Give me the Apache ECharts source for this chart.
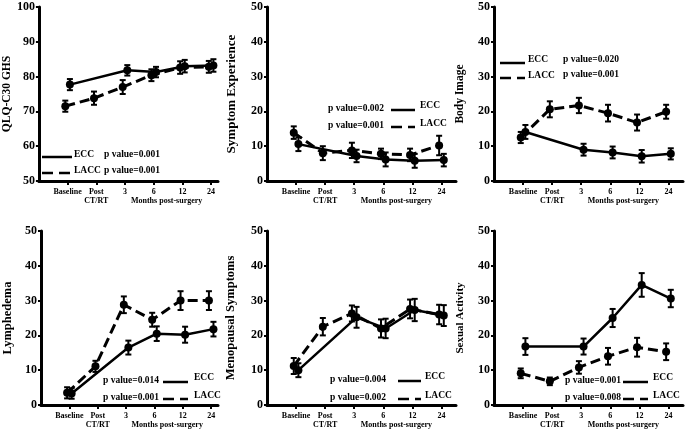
<!DOCTYPE html>
<html><head><meta charset="utf-8">
<script src="https://cdn.jsdelivr.net/npm/echarts@6/dist/echarts.min.js"></script>
<style>html,body{margin:0;padding:0;background:#fff}#c{width:685px;height:429px}</style>
</head><body><div id="c"></div>
<script>
// ---------- data ----------
const categories = ['Baseline', 'Post\nCT/RT', '3', '6', '12', '24'];
const xAxisSubtitle = 'Months post-surgery';
const titles = ['QLQ-C30 GHS', 'Symptom Experience', 'Body Image', 'Lymphedema', 'Menopausal Symptoms', 'Sexual Activity'];
const yMin = [50, 0, 0, 0, 0, 0];
const yMax = [100, 50, 50, 50, 50, 50];
const pEcc  = ['0.001', '0.002', '0.020', '0.014', '0.004', '0.001'];
const pLacc = ['0.001', '0.001', '0.001', '0.001', '0.002', '0.008'];

// QLQ-C30 GHS
const qlqEcc     = [77.7, null, 81.8, 81.3, 83.0, 83.2];
const qlqEccErr  = [1.6, null, 1.5, 1.5, 1.8, 1.8];
const qlqLacc    = [71.5, 73.8, 77.0, 80.4, 82.6, 82.8];
const qlqLaccErr = [1.6, 1.9, 2.0, 1.7, 1.8, 1.7];
// Symptom Experience
const sympEcc     = [10.6, null, 7.2, 6.2, 5.8, 6.0];
const sympEccErr  = [2.0, null, 1.8, 2.0, 2.0, 1.8];
const sympLacc    = [13.9, 8.0, 8.8, 7.8, 7.5, 10.2];
const sympLaccErr = [1.8, 2.0, 2.2, 1.5, 1.8, 2.8];
// Body Image
const bodyEcc     = [14.1, null, 9.0, 8.2, 7.1, 7.8];
const bodyEccErr  = [2.0, null, 1.7, 1.7, 1.8, 1.6];
const bodyLacc    = [12.5, 20.6, 21.7, 19.5, 16.8, 19.9];
const bodyLaccErr = [1.6, 2.3, 2.2, 2.4, 2.3, 2.0];
// Lymphedema
const lymEcc     = [3.3, null, 16.5, 20.5, 20.2, 21.8];
const lymEccErr  = [1.5, null, 2.0, 2.1, 2.3, 2.1];
const lymLacc    = [3.5, 11.1, 28.8, 24.5, 30.0, 30.0];
const lymLaccErr = [1.6, 1.6, 2.4, 2.0, 2.7, 2.7];
// Menopausal Symptoms
const menoEcc     = [10.0, null, 25.2, 22.0, 27.3, 25.7];
const menoEccErr  = [2.0, null, 3.0, 2.8, 3.2, 3.0];
const menoLacc    = [11.2, 22.5, 26.3, 22.0, 27.6, 26.0];
const menoLaccErr = [2.3, 2.5, 2.3, 2.6, 2.7, 2.8];
// Sexual Activity
const sexEcc     = [16.8, null, 16.8, 25.0, 34.5, 30.6];
const sexEccErr  = [2.4, null, 2.3, 2.6, 3.4, 2.5];
const sexLacc    = [9.1, 6.8, 10.8, 14.0, 16.6, 15.3];
const sexLaccErr = [1.4, 1.1, 1.8, 2.4, 2.7, 2.4];

const eccSets  = [[qlqEcc, qlqEccErr], [sympEcc, sympEccErr], [bodyEcc, bodyEccErr], [lymEcc, lymEccErr], [menoEcc, menoEccErr], [sexEcc, sexEccErr]];
const laccSets = [[qlqLacc, qlqLaccErr], [sympLacc, sympLaccErr], [bodyLacc, bodyLaccErr], [lymLacc, lymLaccErr], [menoLacc, menoLaccErr], [sexLacc, sexLaccErr]];

// ---------- layout / style ----------
const FONT = '"Liberation Serif", "Times New Roman", serif';
const grids = [
  {left: 35,  top: 7,   width: 183, height: 174},
  {left: 267, top: 7,   width: 189, height: 174},
  {left: 494, top: 7,   width: 189, height: 174},
  {left: 35,  top: 231, width: 183, height: 175},
  {left: 267, top: 231, width: 189, height: 175},
  {left: 494, top: 231, width: 189, height: 175}
];
const xMaxes = [5.24, 5.5, 5.5, 5.24, 5.5, 5.5];
const nameGaps = [25, 29, 28, 27, 30, 28];
const nameSizes = [11.5, 13, 11.5, 12.5, 12.5, 11];
const LEG_FS = 9.5;
const JIT = 0.08;
const DASH = [10, 5];

const chart = echarts.init(document.getElementById('c'), null, {renderer: 'canvas'});

const xAxes = [], yAxes = [], series = [];
grids.forEach((g, p) => {
  xAxes.push({
    gridIndex: p, type: 'value', min: -1, max: xMaxes[p],
    axisLine: {show: true, onZero: false, lineStyle: {color: '#000', width: 3}},
    splitLine: {show: false},
    axisTick: {show: true, customValues: [0, 1, 2, 3, 4, 5], length: 4, lineStyle: {color: '#000', width: 2}},
    axisLabel: {
      customValues: [0, 1, 2, 3, 4, 5],
      formatter: v => categories[Math.round(v)],
      fontFamily: FONT, fontWeight: 'bold', fontSize: 8, color: '#000', lineHeight: 9, margin: 6
    }
  });
  yAxes.push({
    gridIndex: p, type: 'value', min: yMin[p], max: yMax[p], interval: 10,
    name: titles[p], nameLocation: 'middle', nameGap: nameGaps[p], nameRotate: 90,
    nameTextStyle: {fontFamily: FONT, fontWeight: 'bold', fontSize: nameSizes[p], color: '#000'},
    axisLine: {show: true, onZero: false, lineStyle: {color: '#000', width: 3}},
    axisTick: {show: true, length: 3, lineStyle: {color: '#000', width: 2}},
    splitLine: {show: false},
    axisLabel: {fontFamily: FONT, fontWeight: 'bold', fontSize: 12, color: '#000', margin: 4}
  });

  [[eccSets[p], JIT, 'solid'], [laccSets[p], -JIT, 'dashed']].forEach(([set, off, kind]) => {
    const vals = set[0], errs = set[1];
    const pts = [], bars = [];
    vals.forEach((v, i) => {
      if (v == null) return;
      pts.push([i + off, v]);
      bars.push([i + off, v, errs[i]]);
    });
    series.push({
      type: 'line', xAxisIndex: p, yAxisIndex: p, data: pts,
      symbol: 'circle', symbolSize: 8, showSymbol: true,
      itemStyle: {color: '#000'},
      lineStyle: {color: '#000', width: kind === 'solid' ? 2.5 : 3, type: kind === 'solid' ? 'solid' : DASH},
      animation: false, z: 3
    });
    series.push({
      type: 'custom', xAxisIndex: p, yAxisIndex: p, data: bars,
      encode: {x: 0, y: 1}, clip: false, animation: false, z: 2,
      renderItem: (params, api) => {
        const x = api.value(0), y = api.value(1), e = api.value(2);
        const lo = api.coord([x, y - e]), hi = api.coord([x, y + e]);
        const w = 3;
        const st = {stroke: '#000', lineWidth: 2};
        return {type: 'group', children: [
          {type: 'line', shape: {x1: lo[0], y1: lo[1], x2: hi[0], y2: hi[1]}, style: st},
          {type: 'line', shape: {x1: lo[0] - w, y1: lo[1], x2: lo[0] + w, y2: lo[1]}, style: st},
          {type: 'line', shape: {x1: hi[0] - w, y1: hi[1], x2: hi[0] + w, y2: hi[1]}, style: st}
        ]};
      }
    });
  });
});

// legend layout (pixels)
function sample(x1, x2, y, dashed) {
  return {type: 'line', shape: {x1: x1, y1: y, x2: x2, y2: y},
    style: {stroke: '#000', lineWidth: 2.5, lineDash: dashed ? [11, 6] : null}};
}
function txt(x, y, s, size) {
  return {type: 'text', x: x, y: y, style: {text: s, fontFamily: FONT, fontWeight: 'bold',
    fontSize: size || LEG_FS, fill: '#000', verticalAlign: 'middle', align: 'left'}};
}
const graphics = [];
// panel 1: line, name, p-value
graphics.push(sample(42, 72, 157, false), txt(74, 155, 'ECC'), txt(104, 155, 'p value=' + pEcc[0]));
graphics.push(sample(42, 72, 173, true), txt(74, 171, 'LACC'), txt(104, 171, 'p value=' + pLacc[0]));
// panel 3
graphics.push(sample(500, 525, 63, false), txt(528, 60, 'ECC'), txt(563, 60, 'p value=' + pEcc[2]));
graphics.push(sample(500, 525, 78, true), txt(528, 76, 'LACC'), txt(563, 75, 'p value=' + pLacc[2]));
// panels 2,4,5,6: p-value, line, name
const legB = [
  {p: 1, px: 328, lx1: 391, lx2: 415, nx: 420, y1: 109, y2: 126},
  {p: 3, px: 103, lx1: 163, lx2: 188, nx: 194, y1: 381, y2: 398},
  {p: 4, px: 330, lx1: 398, lx2: 421, nx: 425, y1: 380, y2: 398},
  {p: 5, px: 565, lx1: 623, lx2: 648, nx: 653, y1: 381, y2: 398}
];
legB.forEach(L => {
  graphics.push(txt(L.px, L.y1, 'p value=' + pEcc[L.p]), sample(L.lx1, L.lx2, L.y1 + 1, false), txt(L.nx, L.y1 - 3, 'ECC'));
  graphics.push(txt(L.px, L.y2, 'p value=' + pLacc[L.p]), sample(L.lx1, L.lx2, L.y2 + 1, true), txt(L.nx, L.y2 - 2, 'LACC'));
});

chart.setOption({
  backgroundColor: '#fff',
  animation: false,
  grid: grids,
  xAxis: xAxes,
  yAxis: yAxes,
  series: series,
  graphic: graphics
});

// "Months post-surgery" under the month ticks (second label line)
grids.forEach((g, p) => {
  const pt = chart.convertToPixel({xAxisIndex: p, yAxisIndex: p}, [3.45, yMin[p]]);
  graphics.push({type: 'text', x: pt[0], y: pt[1] + 20, style: {text: xAxisSubtitle, fontFamily: FONT,
    fontWeight: 'bold', fontSize: 8, fill: '#000', align: 'center', verticalAlign: 'middle'}});
});
chart.setOption({graphic: graphics});
</script>
</body></html>
